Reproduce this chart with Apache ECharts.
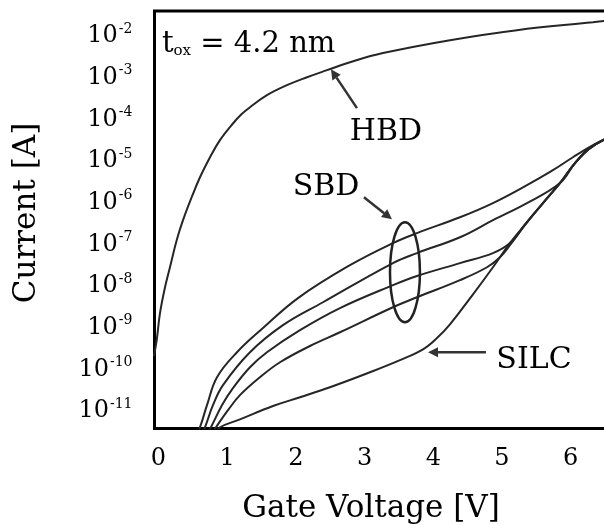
<!DOCTYPE html>
<html>
<head>
<meta charset="utf-8">
<script src="https://cdn.jsdelivr.net/npm/echarts@6/dist/echarts.min.js"></script>
<style>html,body{margin:0;padding:0;background:#fff;}#c{width:604px;height:525px;}</style>
</head>
<body>
<div id="c"></div>
<script>
// Gate voltage [V] and log10(Current [A])
const hbdV = [-0.066, -0.026, 0.022, 0.095, 0.167, 0.265, 0.357, 0.483, 0.604, 0.750, 0.895, 1.084, 1.208, 1.332, 1.579, 1.870, 2.162, 2.453, 2.788, 3.268, 4.243, 5.218, 6.324, 6.60];
const hbdLogI = [-9.70, -9.32, -8.67, -8.05, -7.57, -6.92, -6.44, -5.89, -5.41, -4.93, -4.52, -4.12, -3.90, -3.73, -3.44, -3.20, -3.01, -2.84, -2.65, -2.43, -2.12, -1.88, -1.69, -1.64];

const sbd1V = [0.560, 0.604, 0.706, 0.852, 1.143, 1.521, 2.031, 2.788, 3.413, 3.763, 4.389, 4.869, 5.364, 5.742, 6.033, 6.325, 6.60];
const sbd1LogI = [-11.53, -11.41, -10.88, -10.21, -9.61, -9.03, -8.31, -7.52, -6.99, -6.75, -6.37, -6.03, -5.60, -5.24, -4.93, -4.64, -4.42];

const sbd2V = [0.633, 0.677, 0.793, 0.939, 1.332, 1.812, 2.395, 3.413, 3.763, 4.389, 4.869, 5.364, 5.844, 6.063, 6.281, 6.60];
const sbd2LogI = [-11.53, -11.41, -10.88, -10.40, -9.61, -8.96, -8.41, -7.47, -7.23, -6.85, -6.44, -6.03, -5.55, -5.07, -4.71, -4.42];

const sbd3V = [0.721, 0.764, 0.924, 1.084, 1.332, 1.579, 2.06, 2.642, 3.413, 3.763, 4.389, 4.869, 5.116, 5.364, 5.597, 5.844, 6.063, 6.281, 6.60];
const sbd3LogI = [-11.53, -11.41, -10.88, -10.47, -9.97, -9.61, -9.08, -8.55, -8.00, -7.78, -7.47, -7.23, -6.99, -6.49, -6.03, -5.55, -5.07, -4.71, -4.42];

const sbd4V = [0.793, 0.837, 1.012, 1.186, 1.477, 1.769, 2.205, 2.642, 3.413, 3.763, 4.389, 4.782, 4.971, 5.116, 5.364, 5.597, 5.844, 6.063, 6.281, 6.60];
const sbd4LogI = [-11.53, -11.41, -11.00, -10.64, -10.21, -9.85, -9.46, -9.13, -8.53, -8.29, -7.88, -7.57, -7.33, -7.04, -6.49, -6.03, -5.55, -5.07, -4.71, -4.42];

const silcV = [0.852, 0.895, 1.186, 1.667, 2.06, 2.496, 3.079, 3.515, 3.85, 4.054, 4.243, 4.592, 4.869, 5.116, 5.364, 5.597, 5.844, 6.063, 6.281, 6.60];
const silcLogI = [-11.53, -11.41, -11.22, -10.90, -10.69, -10.45, -10.09, -9.80, -9.54, -9.27, -8.94, -8.19, -7.57, -6.99, -6.49, -6.03, -5.55, -5.07, -4.71, -4.42];

const xTicks = [0, 1, 2, 3, 4, 5, 6];
const yTicks = [-11, -10, -9, -8, -7, -6, -5, -4, -3, -2];

const xTitle = 'Gate Voltage [V]';
const yTitle = 'Current [A]';

const FONT = 'DejaVu Serif';
const LINE = '#262626';

function zip(a, b) { return a.map((v, i) => [v, b[i]]); }
function curve(name, xs, ys, s) {
  return {
    name, type: 'line', data: zip(xs, ys), smooth: s, showSymbol: false, symbol: 'none',
    lineStyle: { color: LINE, width: 2 }, clip: true, z: 3
  };
}

const chart = echarts.init(document.getElementById('c'), null, { renderer: 'canvas' });
chart.setOption({
  animation: false,
  backgroundColor: '#fff',
  grid: { left: 154.5, top: 11, width: 456, height: 417.5, outerBoundsMode: 'none', containLabel: false, show: true, borderColor: '#000', borderWidth: 3, backgroundColor: 'transparent' },
  xAxis: {
    type: 'value', min: -0.058, max: 6.58,
    axisLine: { show: false }, axisTick: { show: false }, splitLine: { show: false },
    axisLabel: { customValues: xTicks, color: '#000', fontFamily: FONT, fontSize: 24, margin: 18 }
  },
  yAxis: {
    type: 'value', min: -11.44, max: -1.42,
    axisLine: { show: false }, axisTick: { show: false }, splitLine: { show: false },
    axisLabel: {
      customValues: yTicks, margin: 22,
      formatter: v => '{b|10}{s|-' + Math.abs(Math.round(v)) + '}',
      rich: {
        b: { fontFamily: FONT, fontSize: 24, color: '#000', lineHeight: 26, verticalAlign: 'bottom' },
        s: { fontFamily: FONT, fontSize: 14, color: '#000', lineHeight: 26, verticalAlign: 'top', padding: [0, 0, 8, 1] }
      }
    }
  },
  series: [
    curve('HBD', hbdV, hbdLogI, 0.4),
    curve('SBD1', sbd1V, sbd1LogI, 0.4),
    curve('SBD2', sbd2V, sbd2LogI, 0.4),
    curve('SBD3', sbd3V, sbd3LogI, 0.4),
    curve('SBD4', sbd4V, sbd4LogI, 0.4),
    curve('SILC', silcV, silcLogI, 0.4)
  ]
});

// annotation anchors in data units [V, log10 I]
const toxLabelPos = [0.05, -2.19];
const hbdLabelPos = [3.31, -4.33];
const hbdArrow = [[2.889, -3.75], [2.511, -2.82]];
const sbdLabelPos = [2.438, -5.65];
const sbdArrow = [[2.991, -5.89], [3.399, -6.42]];
const silcLabelPos = [5.466, -9.80];
const silcArrow = [[4.767, -9.61], [3.923, -9.61]];
const ellipseCenter = [3.588, -7.69];
const ellipseRadius = [0.218, 1.2];

const px = p => chart.convertToPixel({ gridIndex: 0 }, p);

function arrow(seg) {
  const a = px(seg[0]), b = px(seg[1]);
  const ang = Math.atan2(b[1] - a[1], b[0] - a[0]);
  const L = 10, W = 5;
  const bx = b[0] - L * Math.cos(ang), by = b[1] - L * Math.sin(ang);
  const nx = -Math.sin(ang) * W, ny = Math.cos(ang) * W;
  return [
    { type: 'line', shape: { x1: a[0], y1: a[1], x2: bx, y2: by }, style: { stroke: '#333', lineWidth: 2.5 }, z: 10 },
    { type: 'polygon', shape: { points: [[b[0], b[1]], [bx + nx, by + ny], [bx - nx, by - ny]] }, style: { fill: '#333' }, z: 10 }
  ];
}
function label(text, p, size) {
  const q = px(p);
  return { type: 'text', x: q[0], y: q[1], style: { text, fill: '#000', font: size + 'px "' + FONT + '"', align: 'center', verticalAlign: 'middle' }, z: 11 };
}

const c = px(ellipseCenter);
const e1 = px([ellipseCenter[0] + ellipseRadius[0], ellipseCenter[1] + ellipseRadius[1]]);
const tox = px(toxLabelPos);

chart.setOption({
  graphic: [
    { type: 'ellipse', shape: { cx: c[0], cy: c[1], rx: Math.abs(e1[0] - c[0]), ry: Math.abs(e1[1] - c[1]) }, style: { fill: null, stroke: '#222', lineWidth: 2.5 }, z: 10 },
    ...arrow(hbdArrow), ...arrow(sbdArrow), ...arrow(silcArrow),
    label('HBD', hbdLabelPos, 30),
    label('SBD', sbdLabelPos, 30),
    label('SILC', silcLabelPos, 30),
    {
      type: 'text', x: tox[0], y: tox[1], z: 11,
      style: {
        text: '{t|t}{s|ox}{t| = 4.2 nm}', verticalAlign: 'middle', align: 'left',
        rich: {
          t: { fontFamily: FONT, fontSize: 29, fill: '#000', lineHeight: 32, verticalAlign: 'bottom' },
          s: { fontFamily: FONT, fontSize: 15, fill: '#000', lineHeight: 32, verticalAlign: 'bottom' }
        }
      }
    },
    { type: 'text', x: 371, y: 509, z: 11, style: { text: xTitle, fill: '#000', font: '31px "' + FONT + '"', align: 'center', verticalAlign: 'middle' } },
    { type: 'text', x: 27, y: 213, rotation: Math.PI / 2, z: 11, style: { text: yTitle, fill: '#000', font: '31px "' + FONT + '"', align: 'center', verticalAlign: 'middle' } }
  ]
});
</script>
</body>
</html>
